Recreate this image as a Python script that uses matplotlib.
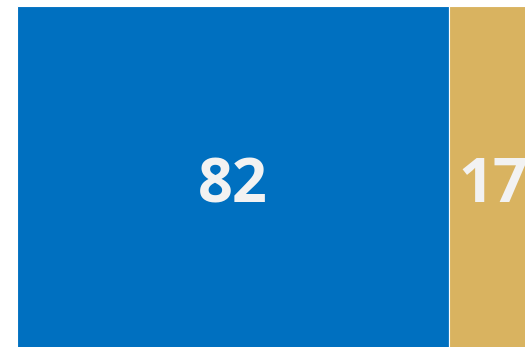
import matplotlib.pyplot as plt

# share of responses, stacked left to right
labels = ['82', '17']
values = [82, 17]
colors = ['#0070C0', '#D9B360']

fig = plt.figure(figsize=(5.25, 3.47), dpi=100)
ax = fig.add_axes([17/525, -8/347, 508/525, 349/347])

left = 0
for lab, v, c in zip(labels, values, colors):
    ax.barh(0, v, left=left, height=1.0, color=c, edgecolor='white', linewidth=0.8)
    ax.text(left + v/2, -0.063, lab, ha='center', va='baseline', color='#F2F2F2',
            fontsize=44, fontweight='bold', family=['Open Sans', 'DejaVu Sans'])
    left += v

ax.set_xlim(0, 508/432*82)
ax.set_ylim(-0.5, 0.5)
ax.axis('off')

fig.savefig('out.png', dpi=100)
